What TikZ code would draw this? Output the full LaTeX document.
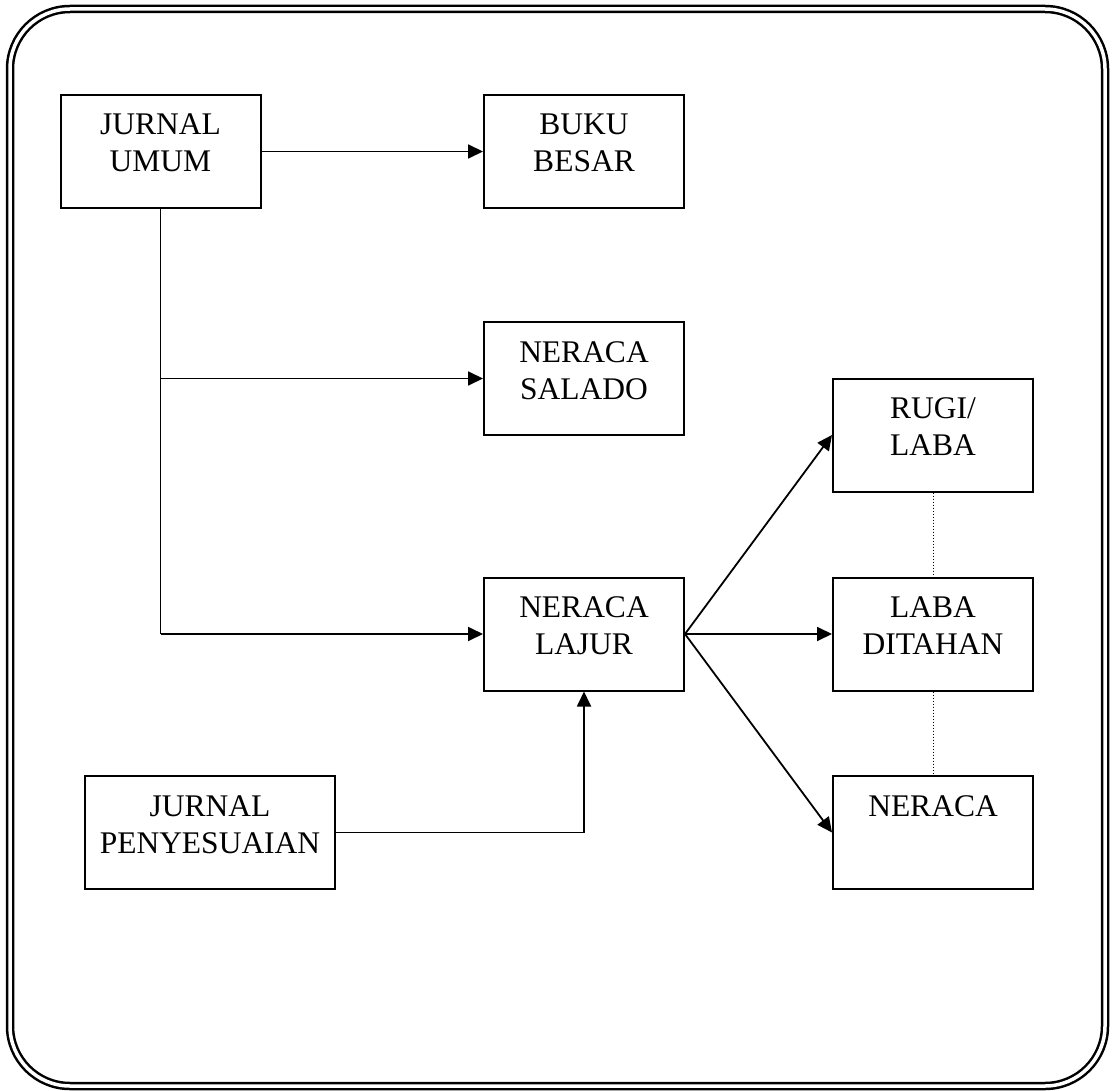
\documentclass[tikz,border=0pt]{standalone}
\usepackage{fontspec}
\setmainfont{Liberation Serif}
\usepackage{tikz}
\usetikzlibrary{arrows.meta,calc}

\begin{document}
\begin{tikzpicture}[
  x=1pt, y=-1pt,
  >={Triangle[length=15pt,width=14pt]},
  flowbox/.style={
    draw=black,
    line width=2pt,
    minimum width=200pt,
    inner sep=0pt,
    text height=77pt,
    text depth=36pt,
    align=center,
    font=\fontsize{31.5}{37}\selectfont
  },
  oneline/.style={text height=40pt, text depth=73pt},
  flowline/.style={line width=1.8pt, draw=black},
  linkline/.style={line width=1pt, dotted}
]

  % Outer double frame
  \useasboundingbox (0,0) rectangle (1113,1091);
  \draw[line width=2.5pt, double, double distance=3.5pt, rounded corners=60pt] (10,9) rectangle (1105,1086);

  % LEFT COLUMN: JOURNALS
  \node[flowbox] (ju) at (160.5,151.5) {JURNAL\\UMUM};
  \node[flowbox, minimum width=250pt] (jp) at (210,832.5) {JURNAL\\PENYESUAIAN};

  % MIDDLE COLUMN
  \node[flowbox] (bb) at (584,151.5) {BUKU\\BESAR};
  \node[flowbox] (ns) at (584,378.5) {NERACA\\SALADO};
  \node[flowbox] (nl) at (584,634) {NERACA\\LAJUR};

  % RIGHT COLUMN: STATEMENTS
  \node[flowbox] (rl) at (933,435) {RUGI/\\LABA};
  \node[flowbox] (ld) at (933,634) {LABA\\DITAHAN};
  \node[flowbox, oneline] (nr) at (933,832.5) {NERACA};

  % Posting arrows
  \draw[->, flowline] (ju.east) -- (bb.west);
  \draw[flowline] (ju.south) -- (ju.south |- nl.west);
  \draw[->, flowline] (ju.south |- ns.west) -- (ns.west);
  \draw[->, flowline] (ju.south |- nl.west) -- (nl.west);
  \draw[->, flowline] (jp.east) -| (nl.south);

  % Worksheet to statements
  \draw[->, flowline] (nl.east) -- (rl.west);
  \draw[->, flowline] (nl.east) -- (ld.west);
  \draw[->, flowline] (nl.east) -- (nr.west);

  % Dotted links between statements
  \draw[linkline] (rl.south) -- (ld.north);
  \draw[linkline] (ld.south) -- (nr.north);

\end{tikzpicture}
\end{document}
